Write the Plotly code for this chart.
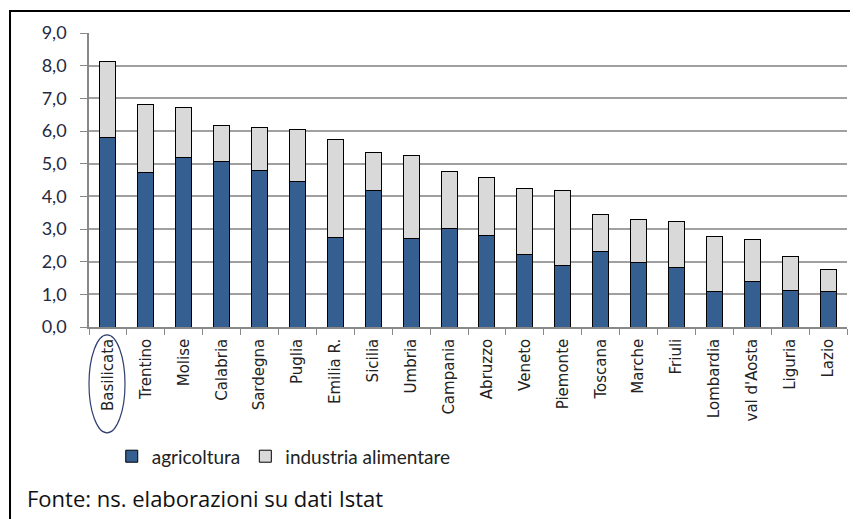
import plotly.graph_objects as go

# regioni in ordine di valore totale
regioni = ['Basilicata', 'Trentino', 'Molise', 'Calabria', 'Sardegna', 'Puglia', 'Emilia R.', 'Sicilia',
           'Umbria', 'Campania', 'Abruzzo', 'Veneto', 'Piemonte', 'Toscana', 'Marche', 'Friuli',
           'Lombardia', "val d'Aosta", 'Liguria', 'Lazio']
agricoltura = [5.80, 4.72, 5.19, 5.07, 4.78, 4.45, 2.75, 4.17, 2.71, 3.01, 2.81, 2.22, 1.88, 2.30, 1.97,
               1.82, 1.08, 1.39, 1.13, 1.09]
industria = [2.33, 2.10, 1.53, 1.09, 1.33, 1.60, 2.98, 1.18, 2.53, 1.74, 1.77, 2.01, 2.31, 1.15, 1.33,
             1.41, 1.69, 1.28, 1.02, 0.68]
y_ticks = [0, 1, 2, 3, 4, 5, 6, 7, 8, 9]

fig = go.Figure()
fig.add_bar(x=regioni, y=agricoltura, name='agricoltura',
            marker=dict(color='#355e91', line=dict(color='black', width=1)))
fig.add_bar(x=regioni, y=industria, name='industria alimentare',
            marker=dict(color='#d9d9d9', line=dict(color='black', width=1)))

# la pagina ha 8px di margine nel body: margini spostati di conseguenza
fig.update_layout(
    width=858, height=519,
    barmode='stack', bargap=0.58,
    separators=',.',
    plot_bgcolor='white', paper_bgcolor='white',
    margin=dict(l=81, r=19, t=25, b=200, autoexpand=False),
    font=dict(family='DejaVu Sans', color='#222222'),
    legend=dict(orientation='h', x=0.03, y=-0.44, xanchor='left', yanchor='middle',
                font=dict(family='Lato', size=19, color='#222222'), traceorder='normal',
                itemwidth=30),
    xaxis=dict(type='category', tickangle=-90, tickson='boundaries', ticks='outside', ticklen=6,
               tickcolor='#888888', showline=True, linecolor='#888888', linewidth=1.5,
               tickfont=dict(family='DejaVu Sans', size=15, color='#222222'), showgrid=False,
               ticklabelstandoff=4, automargin=False),
    yaxis=dict(range=[0, 9], tickvals=y_ticks, tickformat='.1f', ticks='outside', ticklen=7,
               tickcolor='#888888', showline=True, linecolor='#888888', linewidth=1.5,
               gridcolor='#a0a0a0', gridwidth=1.5, zeroline=False, ticklabelstandoff=10,
               tickfont=dict(family='Lato', size=18, color='#1f2a44'), automargin=False),
    shapes=[
        # cornice del riquadro
        dict(type='rect', xref='paper', yref='paper', x0=-0.1042, x1=1.3, y0=-0.8, y1=1.0748,
             line=dict(color='black', width=2)),
        # ellisse attorno a Basilicata
        dict(type='circle', xref='paper', yref='paper', x0=0.0, x1=0.0475, y0=-0.36, y1=-0.027,
             line=dict(color='#2f3e6e', width=1.2)),
    ],
    annotations=[
        dict(text='Fonte: ns. elaborazioni su dati Istat', xref='paper', yref='paper',
             x=-0.0844, y=-0.583, xanchor='left', yanchor='middle', showarrow=False,
             font=dict(family='Open Sans', size=22, color='#111111')),
    ],
)

fig.write_html("out.html")
